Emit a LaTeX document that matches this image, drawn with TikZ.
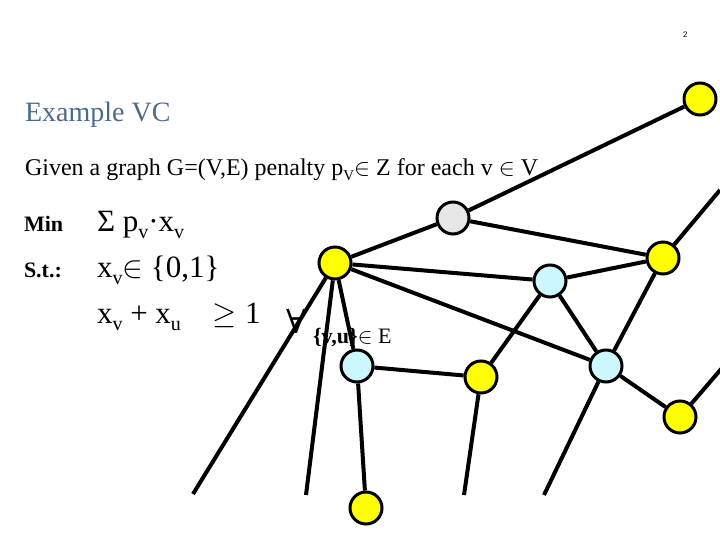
\RequirePackage{fix-cm}
\documentclass[tikz,border=0pt]{standalone}
\usepackage{fontspec}
\usepackage{amsmath}
\setmainfont{Liberation Serif}
\newfontfamily\arialfont{Liberation Sans}
\newfontfamily\symfont{DejaVu Serif}
\definecolor{titleblue}{RGB}{77,106,138}
\definecolor{nodeyellow}{RGB}{255,255,0}
\definecolor{nodeblue}{RGB}{204,247,255}
\definecolor{nodegray}{RGB}{230,230,230}
\newcommand\bigsz{\fontsize{31}{36}\selectfont}
\newcommand\midsz{\fontsize{24}{28}\selectfont}
\newcommand\lowsub[1]{\raisebox{-7pt}{\fontsize{20}{24}\selectfont #1}}
\newcommand\smallsub[1]{\raisebox{-5pt}{\fontsize{15}{18}\selectfont #1}}
\begin{document}
\begin{tikzpicture}[x=1pt,y=-1pt,
  vtx/.style={circle,draw=black,line width=3pt,minimum size=32pt,inner sep=0pt},
  yel/.style={vtx,fill=nodeyellow},
  blu/.style={vtx,fill=nodeblue},
  gry/.style={vtx,fill=nodegray},
  edge/.style={line width=4pt,black},
  txt/.style={anchor=base west,inner sep=0pt,outer sep=0pt}]
\useasboundingbox (0,0) rectangle (720,540);
% texts
\node[txt,font=\arialfont\fontsize{8}{10}\selectfont] (pg) at (683,38) {2};
\node[txt,text=titleblue,font=\fontsize{28}{34}\selectfont] (title) at (25,122) {Example VC};
\node[txt,font=\midsz] (given) at (25,176) {Given a graph G=(V,E) penalty p\smallsub{V}$\in$ Z for each v $\in$ V};
\node[txt,font=\bfseries\fontsize{22}{26}\selectfont] (min) at (24,232) {Min};
\node[txt,font=\bigsz] (obj) at (97,232) {Σ p\lowsub{v}·x\lowsub{v}};
\node[txt,font=\bfseries\fontsize{22}{26}\selectfont] (st) at (24,277) {S.t.:};
\node[txt,font=\bigsz] (c1) at (97,277) {x\lowsub{v}$\in$ \{0,1\}};
\node[txt,font=\bigsz] (c2) at (97,323) {x\lowsub{v} + x\lowsub{u}};
\node[txt,font=\bigsz] (ge) at (212,323) {$\geq$\hspace{9pt}1};
\node[txt,font=\symfont\fontsize{33}{36}\selectfont] (fa) at (286,333) {∀};
\node[txt,font=\fontsize{22}{26}\selectfont] (ed) at (313,343) {\textbf{\{v,u\}}$\in$ E};
% vertices
\node[yel] (tr) at (700,99) {};
\node[gry] (g) at (453,218) {};
\node[yel] (v) at (335,263) {};
\node[yel] (ry) at (663,258) {};
\node[blu] (bt) at (550,281) {};
\node[blu] (bl) at (357,366) {};
\node[yel] (ym) at (481,377) {};
\node[blu] (br) at (606,366) {};
\node[yel] (yr) at (680,417) {};
\node[yel] (yb) at (366,508) {};
% free ends
\coordinate (e1) at (193,494);
\coordinate (e2) at (306,495);
\coordinate (e3) at (464,495);
\coordinate (e4) at (544,495);
\coordinate (e5) at (720,190);
\coordinate (e6) at (722,368);
% edges
\draw[edge] (v) -- (g);
\draw[edge] (g) -- (tr);
\draw[edge] (g) -- (ry);
\draw[edge] (v) -- (bt);
\draw[edge] (bt) -- (ry);
\draw[edge] (v) -- (bl);
\draw[edge] (v) -- (br);
\draw[edge] (v) -- (e1);
\draw[edge] (v) -- (e2);
\draw[edge] (bl) -- (yb);
\draw[edge] (bl) -- (ym);
\draw[edge] (ym) -- (bt);
\draw[edge] (ym) -- (e3);
\draw[edge] (bt) -- (br);
\draw[edge] (ry) -- (br);
\draw[edge] (br) -- (yr);
\draw[edge] (br) -- (e4);
\draw[edge] (ry) -- (e5);
\draw[edge] (yr) -- (e6);
\end{tikzpicture}
\end{document}
